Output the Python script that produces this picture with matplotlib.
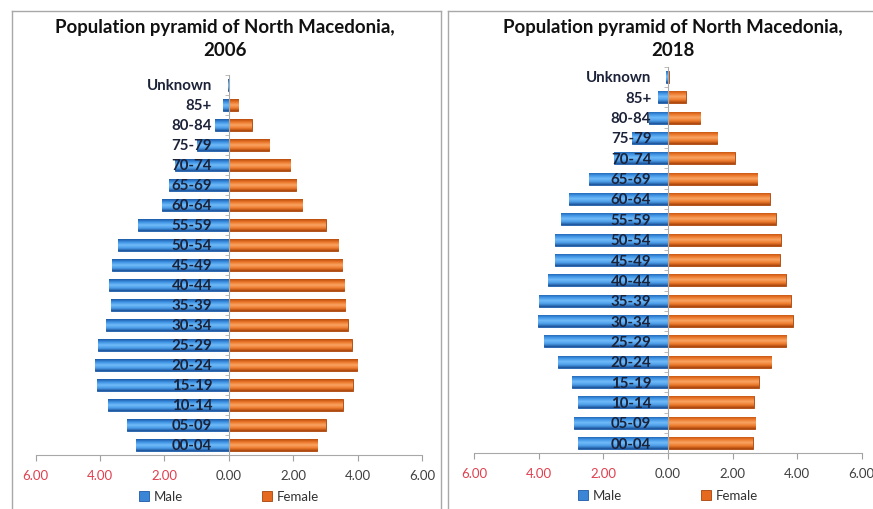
import numpy as np
import matplotlib
matplotlib.use("Agg")
import matplotlib.pyplot as plt
from matplotlib.colors import LinearSegmentedColormap
from matplotlib.lines import Line2D
from matplotlib.patches import Patch

plt.rcParams['font.family'] = ['Lato', 'DejaVu Sans']

age_groups = ["00-04", "05-09", "10-14", "15-19", "20-24", "25-29", "30-34",
              "35-39", "40-44", "45-49", "50-54", "55-59", "60-64", "65-69",
              "70-74", "75-79", "80-84", "85+", "Unknown"]

male_2006 = [2.88, 3.17, 3.74, 4.10, 4.17, 4.05, 3.81, 3.65, 3.71, 3.62,
             3.43, 2.83, 2.07, 1.85, 1.67, 1.00, 0.42, 0.19, 0.04]
female_2006 = [2.74, 3.01, 3.54, 3.85, 3.98, 3.82, 3.69, 3.62, 3.58, 3.53,
               3.39, 3.01, 2.28, 2.09, 1.90, 1.26, 0.71, 0.29, 0.02]

male_2018 = [2.80, 2.90, 2.80, 2.98, 3.41, 3.85, 4.04, 4.01, 3.73, 3.51,
             3.51, 3.32, 3.06, 2.46, 1.68, 1.10, 0.60, 0.32, 0.05]
female_2018 = [2.62, 2.71, 2.65, 2.81, 3.20, 3.67, 3.86, 3.81, 3.64, 3.46,
               3.49, 3.34, 3.15, 2.77, 2.06, 1.53, 1.00, 0.55, 0.03]

title_line1 = "Population pyramid of North Macedonia,"
years = ["2006", "2018"]
xticks = [-6, -4, -2, 0, 2, 4, 6]

blue_cmap = LinearSegmentedColormap.from_list(
    "b", ["#1d5aa6", "#3d92e4", "#72bbf8", "#4c9ee9", "#1a4f95"])
orange_cmap = LinearSegmentedColormap.from_list(
    "o", ["#b84c0c", "#ec7729", "#f9a464", "#ef7c2e", "#a8430a"])

W, H = 873, 509
fig = plt.figure(figsize=(W / 100, H / 100), dpi=100)

# frames
def fline(x0, y0, x1, y1):
    fig.add_artist(Line2D([x0 / W, x1 / W], [1 - y0 / H, 1 - y1 / H],
                          color="#a8a8a8", lw=1.0, transform=fig.transFigure))
fline(12, 11, 441, 11)
fline(12, 11, 12, 509)
fline(441, 11, 441, 509)
fline(448, 11, 873, 11)
fline(448, 11, 448, 509)

axes_px = [(35.7, 75.0, 422.0, 455.0), (474.3, 66.8, 861.7, 453.2)]
title_cx = [225, 673]
datasets = [(male_2006, female_2006), (male_2018, female_2018)]

def gradient_bars(ax, bars, cmap):
    grad = np.linspace(1, 0, 64).reshape(-1, 1)
    for b in bars:
        x0, y0 = b.get_x(), b.get_y()
        w, h = b.get_width(), b.get_height()
        if w == 0:
            continue
        im = ax.imshow(grad, cmap=cmap, aspect="auto",
                       extent=[min(x0, x0 + w), max(x0, x0 + w), y0, y0 + h],
                       origin="lower", zorder=2, interpolation="bilinear")
        im.set_clip_path(b)

for i, (male, female) in enumerate(datasets):
    l, t, r, btm = axes_px[i]
    ax = fig.add_axes([l / W, 1 - btm / H, (r - l) / W, (btm - t) / H])
    y = np.arange(len(age_groups))
    mb = ax.barh(y, -np.array(male), height=0.6, color="#3b8ee0",
                 edgecolor="#1d5aa6", linewidth=0.6, zorder=2, label="Male")
    fb = ax.barh(y, female, height=0.6, color="#ea7428",
                 edgecolor="#a8430a", linewidth=0.6, zorder=2, label="Female")
    gradient_bars(ax, mb, blue_cmap)
    gradient_bars(ax, fb, orange_cmap)

    ax.set_xlim(-6, 6)
    ax.set_ylim(-0.5, len(age_groups) - 0.5)
    ax.set_xticks(xticks)
    ax.set_xticklabels([f"{abs(v):.2f}" for v in xticks], fontsize=9.5)
    for lab, v in zip(ax.get_xticklabels(), xticks):
        lab.set_color("#e0404f" if v < 0 else "#404040")
    ax.tick_params(axis="x", length=4, color="#a0a0a0", pad=7)

    ax.spines["left"].set_position(("data", 0))
    for s in ["top", "right"]:
        ax.spines[s].set_visible(False)
    ax.spines["left"].set_color("#a8a8a8")
    ax.spines["bottom"].set_color("#a8a8a8")
    ax.set_yticks(y)
    ax.set_yticklabels(age_groups, fontsize=10.8, fontweight="bold",
                       color="#1c2238")
    ax.set_yticks(np.arange(-0.5, len(age_groups), 1.0), minor=True)
    ax.tick_params(axis="y", which="major", length=0, pad=12)
    ax.tick_params(axis="y", which="minor", length=3, color="#b0b0b0")
    ax.yaxis.set_zorder(5)
    ax.spines["left"].set_zorder(5)
    ax.patch.set_alpha(0)

    fig.text(title_cx[i] / W, 1 - 28 / H, title_line1, ha="center",
             va="center", fontsize=13.4, fontweight="bold", color="#111111")
    fig.text(title_cx[i] / W, 1 - 51 / H, years[i], ha="center",
             va="center", fontsize=13.4, fontweight="bold", color="#111111")

    handles = [Patch(facecolor="#3a85d6", edgecolor="#1d5aa6", lw=0.6),
               Patch(facecolor="#e56a20", edgecolor="#a8430a", lw=0.6)]
    ax.legend(handles, ["Male", "Female"], loc="center",
              bbox_to_anchor=(0.5, -0.11), ncol=2, frameon=False,
              fontsize=9.5, handlelength=0.75, handleheight=0.75,
              handletextpad=0.35, columnspacing=6.0,
              labelcolor="#333333")

fig.savefig("out.png", dpi=100, facecolor="white")
